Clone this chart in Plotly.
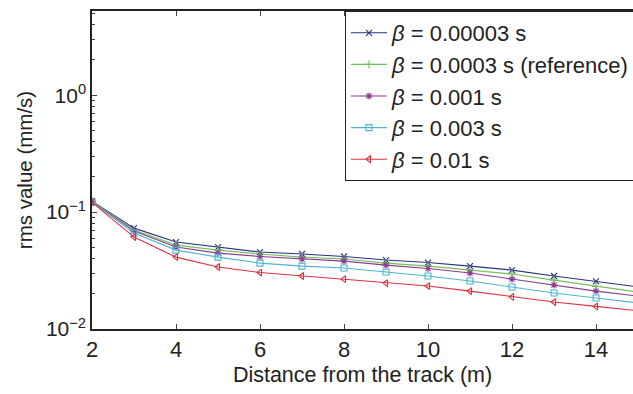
import plotly.graph_objects as go

# Distance from the track (m)
distance = [2, 3, 4, 5, 6, 7, 8, 9, 10, 11, 12, 13, 14, 15]

# rms vibration velocity (mm/s) for each damping value beta
rms_b00003 = [0.124, 0.0729, 0.0554, 0.0502, 0.0455, 0.0438, 0.0417, 0.0389, 0.0370, 0.0345, 0.0319, 0.0284, 0.0255, 0.0229]
rms_b0003 = [0.124, 0.0702, 0.0522, 0.0473, 0.0438, 0.0412, 0.0397, 0.0366, 0.0345, 0.0319, 0.0295, 0.0262, 0.0231, 0.0207]
rms_b001 = [0.123, 0.0688, 0.0502, 0.0446, 0.0417, 0.0397, 0.0381, 0.0352, 0.0329, 0.0301, 0.0267, 0.0238, 0.0211, 0.0191]
rms_b003 = [0.122, 0.0661, 0.0473, 0.0412, 0.0366, 0.0345, 0.0332, 0.0307, 0.0284, 0.0257, 0.0229, 0.0203, 0.0184, 0.0167]
rms_b01 = [0.121, 0.0611, 0.0412, 0.0339, 0.0304, 0.0284, 0.0267, 0.0247, 0.0233, 0.0211, 0.0188, 0.0170, 0.0156, 0.0143]

series_names = [
    "<i>β</i> = 0.00003 s",
    "<i>β</i> = 0.0003 s (reference)",
    "<i>β</i> = 0.001 s",
    "<i>β</i> = 0.003 s",
    "<i>β</i> = 0.01 s",
]
series_values = [rms_b00003, rms_b0003, rms_b001, rms_b003, rms_b01]
series_colors = ["#2a3282", "#74c05c", "#8c3c90", "#4cb4d2", "#e0303e"]
series_symbols = ["x-thin-open", "cross-thin-open", "asterisk-open", "square-open", "triangle-left-open"]

x_ticks = [2, 4, 6, 8, 10, 12, 14]
y_ticks = [0.01, 0.1, 1]
y_tick_text = ["10<sup>−2</sup>", "10<sup>−1</sup>", "10<sup>0</sup>"]

fig = go.Figure()
for name, vals, col, sym in zip(series_names, series_values, series_colors, series_symbols):
    fig.add_trace(go.Scatter(
        x=distance, y=vals, name=name, mode="lines+markers",
        line=dict(color=col, width=1.1),
        marker=dict(symbol=sym, size=6, color=col, line=dict(color=col, width=1.1)),
    ))

font_family = "Liberation Sans, Arial, sans-serif"

fig.update_layout(
    width=633, height=394,
    margin=dict(l=92, r=0, t=11, b=65, autoexpand=False),
    paper_bgcolor="white", plot_bgcolor="white",
    font=dict(family=font_family, color="#222222", size=21),
    showlegend=True,
    legend=dict(
        x=(345 - 92) / 541, y=1, xanchor="left", yanchor="top",
        bgcolor="white", bordercolor="#222222", borderwidth=1,
        font=dict(size=22, color="#222222"),
        itemwidth=36,
    ),
    xaxis=dict(
        range=[2, 14.88], tickvals=x_ticks, ticks="inside", ticklen=5,
        showline=True, linecolor="#222222", linewidth=1.5, mirror="ticks",
        showgrid=False, zeroline=False, tickfont=dict(size=22),
        title=dict(text="Distance from the track (m)", font=dict(size=21.5), standoff=6),
    ),
    yaxis=dict(
        type="log", range=[-2, 0.72], tickvals=y_ticks, ticktext=y_tick_text,
        ticks="inside", ticklen=5,
        minor=dict(ticks="inside", ticklen=3, dtick="D1", showgrid=False),
        showline=True, linecolor="#222222", linewidth=1.5, mirror=False,
        showgrid=False, zeroline=False, tickfont=dict(size=21),
        title=dict(text="rms value (mm/s)", font=dict(size=20.5), standoff=8),
    ),
)

fig.write_html("out.html")
